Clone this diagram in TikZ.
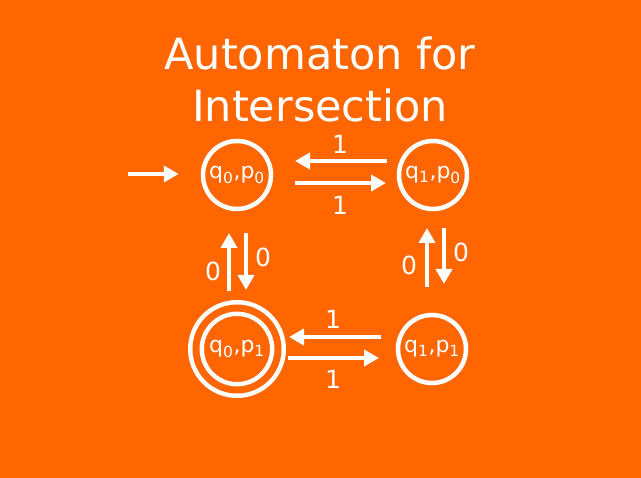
\documentclass[tikz,border=0pt]{standalone}
\usepackage{fontspec}
\setmainfont{DejaVu Sans}
\usetikzlibrary{arrows.meta}
\definecolor{bgorange}{HTML}{FF6600}
\begin{document}
\begin{tikzpicture}[x=1pt,y=-1pt,
  state/.style={circle,draw=white,line width=4.5pt,minimum size=68pt,inner sep=0pt,
    text=white,font=\fontsize{22}{24}\selectfont},
  accepting/.style={double=bgorange,double distance=7pt,line width=4.5pt,minimum size=82pt},
  arr/.style={draw=white,line width=4.5pt,-{Triangle[length=15pt,width=16pt]}},
  lbl/.style={text=white,font=\fontsize{25}{27}\selectfont,inner sep=0pt},
  title/.style={text=white,font=\fontsize{43}{48}\selectfont,inner sep=0pt,anchor=base}]
  \fill[bgorange] (0,0) rectangle (641,478);
  \useasboundingbox (0,0) rectangle (641,478);

  % title
  \node[title] (t1) at (320,70) {Automaton for};
  \node[title] (t2) at (320,122) {Intersection};

  % states
  \node[state] (a) at (237,175) {q\textsubscript{0},p\textsubscript{0}};
  \node[state] (b) at (433,175) {q\textsubscript{1},p\textsubscript{0}};
  \node[state] (d) at (432,349) {q\textsubscript{1},p\textsubscript{1}};
  \node[state,accepting] (c) at (237,349) {q\textsubscript{0},p\textsubscript{1}};

  % start arrow
  \coordinate (s) at (128,174);
  \draw[arr,shorten >=22pt] (s) -- (s -| a.west);

  % top row (yshift is in canvas units: positive moves up)
  \draw[arr,shorten <=46pt,shorten >=58pt] ([yshift=14]b.center) -- ([yshift=14]a.center);
  \draw[arr,shorten <=58pt,shorten >=47pt] ([yshift=-8]a.center) -- ([yshift=-8]b.center);
  \node[lbl] (l1) at (340,144) {1};
  \node[lbl] (l2) at (340,205) {1};

  % left column
  \draw[arr,shorten <=58pt,shorten >=58pt] ([xshift=-8]c.center) -- ([xshift=-8]a.center);
  \draw[arr,shorten <=58pt,shorten >=59pt] ([xshift=9]a.center) -- ([xshift=9]c.center);
  \node[lbl] (l3) at (213,271) {0};
  \node[lbl] (l4) at (263,257) {0};

  % right column
  \draw[arr,shorten <=62pt,shorten >=53pt] ([xshift=-5]d.center) -- ([xshift=-6]b.center);
  \draw[arr,shorten <=53pt,shorten >=65pt] ([xshift=11]b.center) -- ([xshift=12]d.center);
  \node[lbl] (l5) at (409,265) {0};
  \node[lbl] (l6) at (461,252) {0};

  % bottom row
  \draw[arr,shorten <=51pt,shorten >=52pt] ([yshift=12]d.center) -- ([yshift=12]c.center);
  \draw[arr,shorten <=51pt,shorten >=53pt] ([yshift=-9]c.center) -- ([yshift=-9]d.center);
  \node[lbl] (l7) at (333,319) {1};
  \node[lbl] (l8) at (333,379) {1};
\end{tikzpicture}
\end{document}
